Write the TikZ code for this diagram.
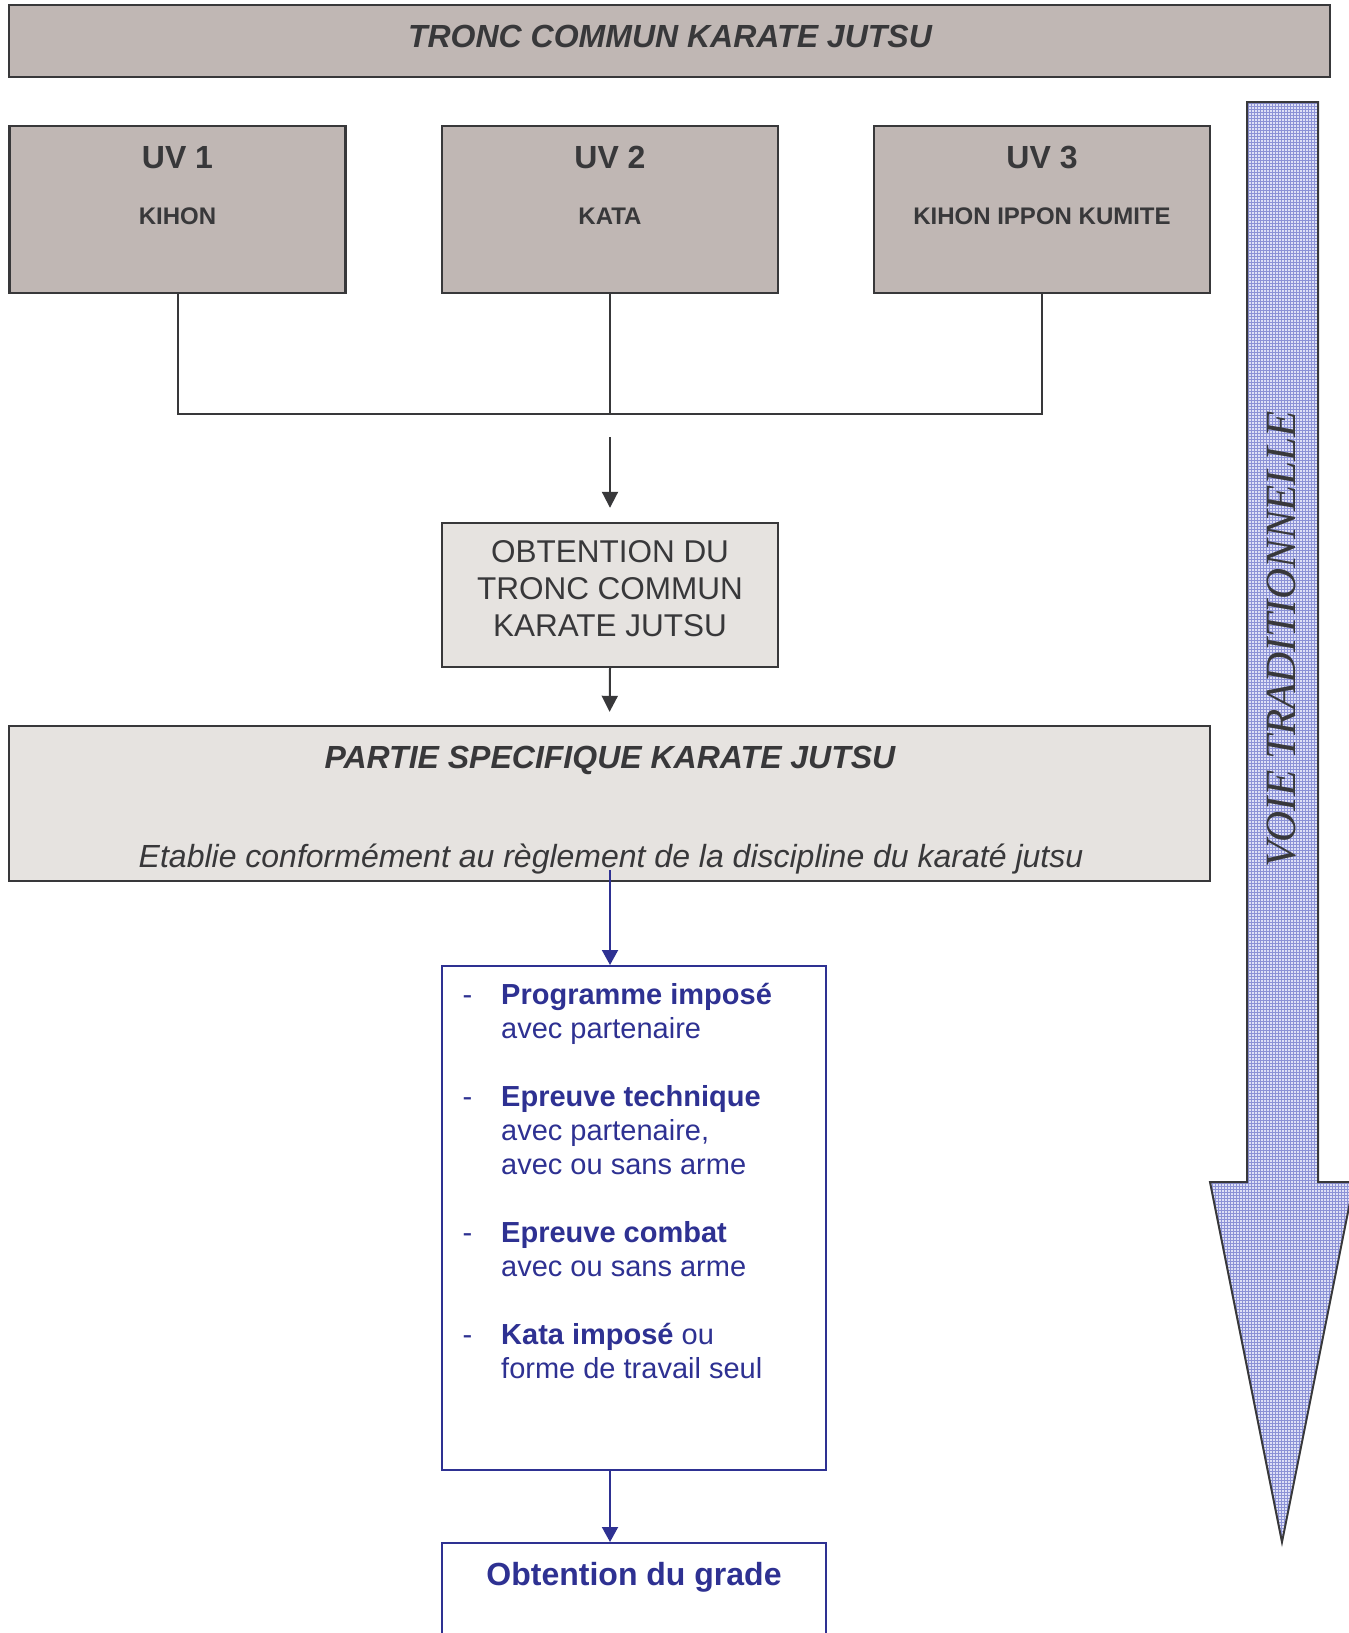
\documentclass[tikz,border=0pt]{standalone}
\usepackage{fontspec}
\setmainfont{Liberation Sans}
\newfontfamily\voiefont{Liberation Serif}
\usetikzlibrary{arrows.meta,patterns}
\definecolor{uvgray}{RGB}{192,183,180}
\definecolor{palegray}{RGB}{230,227,224}
\definecolor{linegray}{RGB}{56,56,58}
\definecolor{navy}{RGB}{46,49,146}
\definecolor{arrowblue}{RGB}{222,224,246}
\definecolor{gridblue}{RGB}{140,146,214}
\newcommand{\dashitem}{\llap{\mdseries-\hspace{29pt}}}

\begin{document}
\begin{tikzpicture}[x=1pt, y=-1pt,
box_style/.style={rectangle, draw=linegray, line width=2.4pt, inner sep=0pt},
uv_style/.style={box_style, fill=uvgray, minimum width=336pt, minimum height=167pt},
pale_style/.style={box_style, fill=palegray},
blue_box/.style={rectangle, draw=navy, line width=2pt, fill=white, minimum width=384pt, inner sep=0pt},
gray_text/.style={text=linegray, anchor=base, inner sep=0pt},
blue_text/.style={text=navy, inner sep=0pt},
edge_style/.style={draw=linegray, line width=2pt},
arrow_style/.style={edge_style, -{Triangle[width=16pt,length=16pt]}},
blue_arrow/.style={draw=navy, line width=2pt, -{Triangle[width=16pt,length=15pt]}}]
\useasboundingbox (0,0) rectangle (1349,1633);
\clip (0,0) rectangle (1349,1633);

% tronc commun
\node[box_style, fill=uvgray, minimum width=1321pt, minimum height=72pt] (banner) at (669.5,41) {};
\node[gray_text, font=\fontsize{32}{37}\selectfont\bfseries\itshape] (banner_txt) at (670,47) {TRONC COMMUN KARATE JUTSU};

% les trois UV
\node[uv_style] (uv1) at (177.5,209.5) {};
\node[uv_style] (uv2) at (610,209.5) {};
\node[uv_style] (uv3) at (1042,209.5) {};
\node[gray_text, font=\fontsize{32}{36}\selectfont\bfseries] (uv1_t) at (177.5,168) {UV 1};
\node[gray_text, font=\fontsize{32}{36}\selectfont\bfseries] (uv2_t) at (610,168) {UV 2};
\node[gray_text, font=\fontsize{32}{36}\selectfont\bfseries] (uv3_t) at (1042,168) {UV 3};
\node[gray_text, font=\fontsize{24}{28}\selectfont\bfseries] (uv1_n) at (177.5,224) {KIHON};
\node[gray_text, font=\fontsize{24}{28}\selectfont\bfseries] (uv2_n) at (610,224) {KATA};
\node[gray_text, font=\fontsize{24}{28}\selectfont\bfseries] (uv3_n) at (1042,224) {KIHON IPPON KUMITE};

\coordinate (join) at (610,414);
\coordinate (arr_start) at (610,437);
\draw[edge_style] (uv1.south) |- (join) -| (uv3.south);
\draw[edge_style] (uv2.south) -- (join);

% obtention du tronc commun
\node[pale_style, minimum width=336pt, minimum height=144pt] (obt) at (610,595) {};
\node[text=linegray, inner sep=0pt, align=center, font=\fontsize{31.5}{37}\selectfont] (obt_txt) at (610,589) {OBTENTION DU\\TRONC COMMUN\\KARATE JUTSU};
\draw[arrow_style, shorten >=14pt] (arr_start) -- (obt.north);

% partie specifique
\node[pale_style, minimum width=1201pt, minimum height=155pt] (partie) at (609.5,803.5) {};
\node[gray_text, font=\fontsize{32}{37}\selectfont\bfseries\itshape] (partie_t) at (610,768) {PARTIE SPECIFIQUE KARATE JUTSU};
\node[gray_text, font=\fontsize{32}{37}\selectfont\itshape] (partie_s) at (611,867) {Etablie conformément au règlement de la discipline du karaté jutsu};
\draw[arrow_style, shorten >=13pt] (obt.south) -- (partie.north);

% epreuves
\coordinate (blue_start) at (610,870);
\node[blue_box, minimum height=504pt] (items) at (634,1218) {};
\node[blue_text, anchor=base west, align=left, font=\fontsize{29}{34}\selectfont] (items_txt) at (501,1378)
{\dashitem\textbf{Programme imposé}\\avec partenaire\\[34pt]
\dashitem\textbf{Epreuve technique}\\avec partenaire,\\avec ou sans arme\\[34pt]
\dashitem\textbf{Epreuve combat}\\avec ou sans arme\\[34pt]
\dashitem\textbf{Kata imposé} ou\\forme de travail seul};
\draw[blue_arrow] (blue_start) -- (blue_start |- items.north);

% grade
\node[blue_box, minimum height=157pt] (grade) at (634,1621.5) {};
\node[blue_text, anchor=base, font=\fontsize{32}{37}\selectfont\bfseries] (grade_t) at (634,1585) {Obtention du grade};
\draw[blue_arrow] (items.south -| join) -- (grade.north -| join);

% voie traditionnelle
\draw[draw=linegray, line width=2pt, preaction={fill=arrowblue}, pattern=grid, pattern color=gridblue]
  (1247,102) -- (1318,102) -- (1318,1182) -- (1354,1182) -- (1282,1542) -- (1210,1182) -- (1247,1182) -- cycle;
\node[text=linegray, anchor=base, inner sep=0pt, rotate=90, font=\voiefont\fontsize{43}{48}\selectfont\itshape] (voie) at (1295,639) {VOIE TRADITIONNELLE};

\end{tikzpicture}
\end{document}
